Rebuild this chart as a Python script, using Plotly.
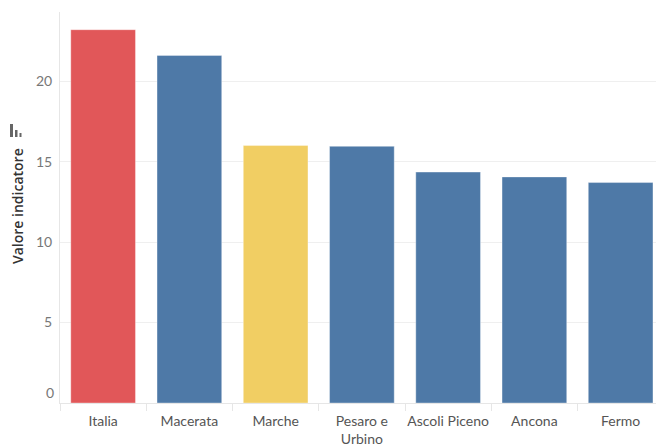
import plotly.graph_objects as go

categories = ["Italia", "Macerata", "Marche", "Pesaro e<br>Urbino", "Ascoli Piceno", "Ancona", "Fermo"]
values = [23.2, 21.6, 16.0, 15.95, 14.35, 14.05, 13.7]
colors = ["#E15759", "#4E79A7", "#F1CE63", "#4E79A7", "#4E79A7", "#4E79A7", "#4E79A7"]
y_ticks = [0, 5, 10, 15, 20]

FONT = "Lato, Open Sans, sans-serif"

PL, PT, PW, PH = 60, 12, 596, 391  # plot area in page pixels
def px(x):
    return (x - PL) / PW
def py(y):
    return (PT + PH - y) / PH

fig = go.Figure()
fig.add_trace(go.Bar(
    x=categories, y=values,
    marker=dict(color=colors, line=dict(color="rgba(255,255,255,0.35)", width=1)),
    width=0.75,
))

fig.update_layout(
    width=656, height=448,
    margin=dict(l=PL, r=0, t=PT, b=448 - PT - PH),
    paper_bgcolor="white", plot_bgcolor="white",
    showlegend=False,
    bargap=0.25,
    font=dict(family=FONT, color="#666666", size=13),
)
fig.update_xaxes(
    range=[-0.5, 6.41],
    automargin=False,
    tickangle=0,
    showgrid=False,
    tickson="boundaries", ticks="outside", ticklen=7, tickcolor="#e6e6e6", tickwidth=1,
    showline=True, linecolor="#e6e6e6", linewidth=1,
    ticklabelstandoff=5,
    tickfont=dict(size=14, color="#555555", family=FONT),
    fixedrange=True,
)
fig.update_yaxes(
    range=[0, 24.3],
    automargin=False,
    tickvals=y_ticks[1:],
    ticktext=[str(v) for v in y_ticks[1:]],
    showgrid=True, gridcolor="#efefef", gridwidth=1,
    zeroline=False,
    showline=True, linecolor="#e6e6e6", linewidth=1,
    ticks="", ticklabelstandoff=4,
    tickfont=dict(size=14, color="#777777", family=FONT),
)
fig.add_annotation(
    x=0, xref="paper", y=y_ticks[0], yref="y", text=str(y_ticks[0]),
    showarrow=False, xanchor="right", xshift=-4, yshift=11,
    font=dict(size=14, color="#777777", family=FONT),
)
fig.add_annotation(
    x=px(17), xref="paper", y=py(206), yref="paper", text="Valore indicatore",
    showarrow=False, textangle=-90, xanchor="center", yanchor="middle",
    font=dict(size=14, color="#333333", family="Open Sans", weight=600),
)
# sort icon next to the axis title
for x0, x1, top in [(10, 13, 124), (15, 17.5, 130), (19.5, 21.5, 133)]:
    fig.add_shape(type="rect", xref="paper", yref="paper",
                  x0=px(x0), x1=px(x1), y0=py(137), y1=py(top),
                  fillcolor="#666666", line=dict(width=0), layer="above")
fig.write_html("out.html", config={"displayModeBar": False},
               post_script="document.body.style.margin='0';document.body.style.overflow='hidden';")
